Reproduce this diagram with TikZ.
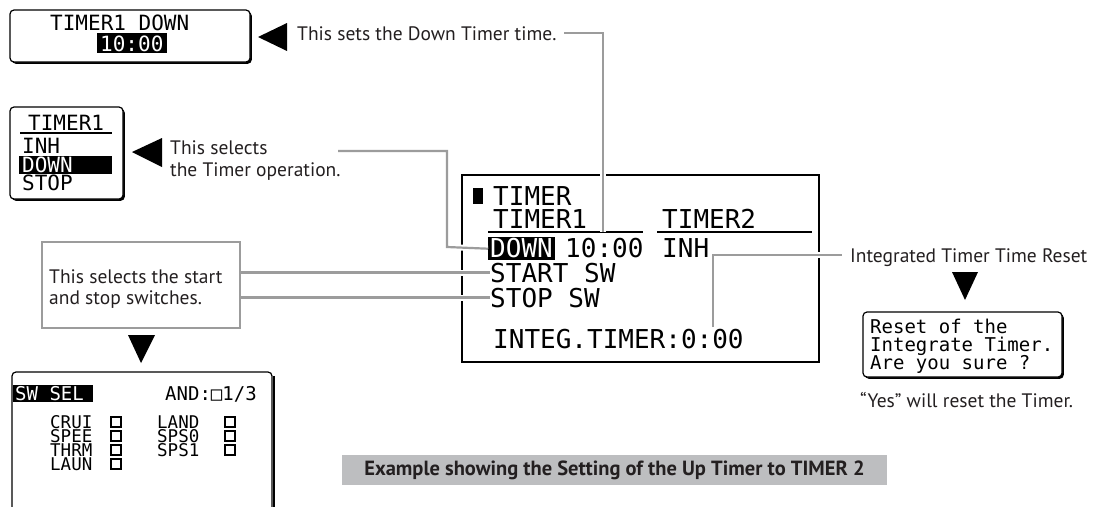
\documentclass[tikz,border=0pt]{standalone}
\usepackage{fontspec}
\setmainfont{PT Sans}
\newfontfamily\lcd{DejaVu Sans Mono}
\usetikzlibrary{shadows}
\definecolor{gline}{HTML}{9C9C9C}
\definecolor{barfill}{HTML}{BDBEC0}
\definecolor{txt}{HTML}{231F20}
\tikzset{
  lbl/.style={inner sep=0pt, anchor=base west, text=txt, font=\fontsize{19.5}{22}\selectfont},
  lcdbig/.style={inner sep=0pt, anchor=base west, font=\fontsize{26}{26}\lcd},
  lcdmid/.style={inner sep=0pt, anchor=base west, font=\fontsize{21}{21}\lcd},
  lcdsm/.style={inner sep=0pt, anchor=base west, font=\fontsize{19}{19}\lcd},
  lcdxs/.style={inner sep=0pt, anchor=base west, text height=12pt, text depth=0pt, font=\fontsize{17.5}{17.5}\lcd},
  chk/.style={draw, line width=1.3pt, minimum size=10pt, inner sep=0pt},
  inv/.style={text=white},
  hl/.style={fill=black, inner sep=0pt, anchor=north west},
  lcdbox/.style={draw, line width=1.2pt, rounded corners=4pt, fill=white, inner sep=0pt,
    drop shadow={shadow xshift=1.8pt, shadow yshift=-1.8pt, fill=black, opacity=1}},
  gl/.style={draw=gline, line width=2.2pt, preaction={draw=white, line width=6pt}},
  tri/.style={fill=black},
}
\begin{document}
\begin{tikzpicture}[x=1pt,y=-1pt]
\useasboundingbox (0,0) rectangle (1094,506);

% ---------- top LCD box ----------
\node[lcdbox, minimum width=240, minimum height=52] (topbox) at (130,36) {};
\node[lcdmid] (toptxt) at (50,30) {TIMER1 DOWN};
\node[hl, minimum width=70, minimum height=20] (tophl) at (97,33) {};
\node[lcdmid, inv] (toptime) at (100,51) {10:00};
\fill[tri] (258,37) -- (287,23) -- (287,51) -- cycle;
\node[lbl] (t1) at (297,40) {This sets the Down Timer time.};

% ---------- TIMER1 menu ----------
\node[lcdbox, minimum width=113, minimum height=92] (menubox) at (66.5,153) {};
\node[lcdmid] (mtitle) at (28,130) {TIMER1};
\draw[line width=1.5pt] (20,133) -- (112,133);
\node[lcdmid] (minh) at (22,153) {INH};
\node[hl, minimum width=93, minimum height=18] (mhl) at (19,156) {};
\node[lcdmid, inv] (mdown) at (22,172) {DOWN};
\node[lcdmid] (mstop) at (22,190) {STOP};
\fill[tri] (132,152) -- (162,138) -- (162,167) -- cycle;
\node[lbl] (t2a) at (170,154) {This selects};
\node[lbl] (t2b) at (170,176) {the Timer operation.};

% ---------- central LCD ----------
\node[draw, line width=2pt, minimum width=357, minimum height=187, inner sep=0pt] (main) at (640.5,268.5) {};
\fill (473,188) rectangle (483,204);
\node[lcdbig] (ctitle) at (493,205) {TIMER};
\node[lcdbig] (ct1) at (493,228) {TIMER1};
\node[lcdbig] (ct2) at (662,228) {TIMER2};
\draw[line width=1.6pt] (488,232) -- (643,232);
\draw[line width=1.6pt] (657,232) -- (812,232);
\node[hl, minimum width=67, minimum height=23] (cdownhl) at (488,237) {};
\node[lcdbig, inv] (cdown) at (490,257) {DOWN};
\node[lcdbig] (ctime) at (565,257) {10:00};
\node[lcdbig] (cinh) at (662,257) {INH};
\node[lcdbig] (cstart) at (490,282) {START SW};
\node[lcdbig] (cstop) at (490,307) {STOP SW};
\node[lcdbig] (cinteg) at (493,348) {INTEG.TIMER:0:00};

% ---------- switch explanation ----------
\node[draw=gline, line width=2pt, minimum width=198, minimum height=86, inner sep=0pt] (swbox) at (141,285) {};
\node[lbl] (t3a) at (49,283) {This selects the start};
\node[lbl] (t3b) at (49,304) {and stop switches.};
\fill[tri] (128,335) -- (155,335) -- (141,363) -- cycle;

% ---------- SW SEL screen ----------
\draw[line width=2pt] (273.6,376) -- (273.6,510);
\draw[line width=1.2pt, rounded corners=4pt] (12,510) -- (12,372) -- (272,372) -- (272,510);
\node[hl, minimum width=80, minimum height=17] (swhl) at (13,385) {};
\node[lcdsm, inv] (swsel) at (15,400) {SW SEL};
\node[lcdsm] (swand) at (165,400) {AND:□1/3};
\node[lcdxs] (s1) at (50,428) {CRUI};
\node[lcdxs] (s2) at (50,442) {SPEE};
\node[lcdxs] (s3) at (50,456) {THRM};
\node[lcdxs] (s4) at (50,470) {LAUN};
\node[chk] (b1) at (116,422) {};
\node[chk] (b2) at (116,436) {};
\node[chk] (b3) at (116,450) {};
\node[chk] (b4) at (116,464) {};
\node[lcdxs] (s5) at (157,428) {LAND};
\node[lcdxs] (s6) at (157,442) {SPS0};
\node[lcdxs] (s7) at (157,456) {SPS1};
\node[chk] (b5) at (230,422) {};
\node[chk] (b6) at (230,436) {};
\node[chk] (b7) at (230,450) {};

% ---------- reset ----------
\node[lbl] (t4) at (850,262) {Integrated Timer Time Reset};
\fill[tri] (952,272) -- (978,272) -- (965,300) -- cycle;
\node[lcdbox, minimum width=199, minimum height=65] (resetbox) at (962.5,344.5) {};
\node[lcdsm] (r1) at (870,333) {Reset of the};
\node[lcdsm] (r2) at (870,351) {Integrate Timer.};
\node[lcdsm] (r3) at (870,369) {Are you sure ?};
\node[lbl] (t5) at (860,407) {“Yes” will reset the Timer.};

% ---------- caption bar ----------
\node[fill=barfill, minimum width=545, minimum height=30, inner sep=0pt, text=txt,
  font=\fontsize{20.5}{22}\selectfont\bfseries] (bar) at (614.5,470)
  {Example showing the Setting of the Up Timer to TIMER 2};

% ---------- connectors ----------
\coordinate (a1) at (564,33);
\coordinate (a2) at (603,232);
\draw[gl] (a1) -| (a2);
\coordinate (c1) at (338,151);
\coordinate (c2) at (447,247);
\draw[gl] (c1) -| (c2) -- (cdownhl.west);
\draw[gl] (swbox.east |- cstart.west) -- (cstart.west);
\draw[gl] (swbox.east |- cstop.west) -- (cstop.west);
\coordinate (d1) at (713,327);
\coordinate (d2) at (842,255);
\draw[gl] (d1) |- (d2);
\end{tikzpicture}
\end{document}
